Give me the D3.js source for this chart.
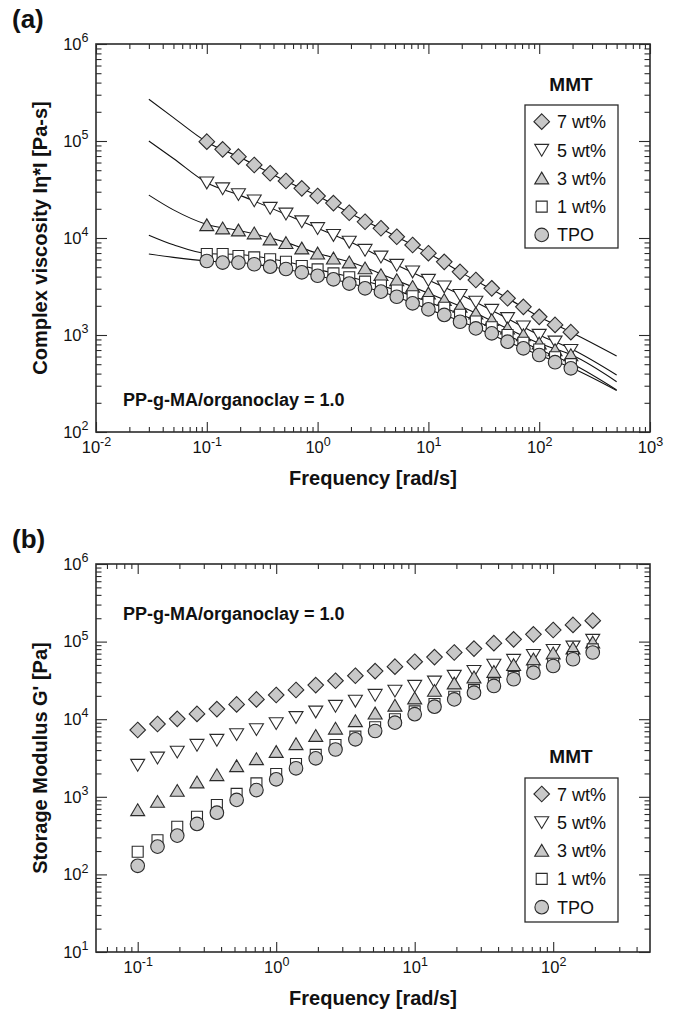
<!DOCTYPE html>
<html><head><meta charset="utf-8">
<script src="https://cdn.jsdelivr.net/npm/d3@7"></script>
<style>
body{margin:0;background:#fff}
svg{display:block}
text{font-family:"Liberation Sans",Arial,Helvetica,sans-serif;fill:#111}
</style>
</head><body>
<svg id="chart" width="679" height="1012"></svg>
<script>
// ---------------- DATA ----------------
const freq = [0.1,0.139,0.193,0.268,0.373,0.518,0.72,1.0,1.39,1.93,2.68,3.73,5.18,7.2,10,13.9,19.3,26.8,37.3,51.8,72,100,139,193];
const seriesNames = ["7 wt%","5 wt%","3 wt%","1 wt%","TPO"];

// (a) complex viscosity |eta*| [Pa-s]
const etaMMT7 = [98400,82000,68900,56600,46500,38700,32500,27100,22900,18200,14700,12600,10300,8470,6970,5680,4480,3690,3030,2390,1950,1540,1270,1070];
const etaMMT5 = [37200,32400,28200,24300,20400,17800,14800,12600,10700,9120,7520,6410,5270,4500,3690,3150,2580,2200,1810,1490,1220,1000,853,700];
const etaMMT3 = [13600,12600,12000,11200,9700,8910,7830,6950,6170,5620,4880,4160,3690,3150,2690,2300,1960,1670,1430,1170,1000,820,700,622];
const etaMMT1 = [6840,6840,6520,6310,6030,5700,5140,4750,4320,3940,3550,3240,2880,2510,2190,1910,1620,1380,1200,1000,832,708,589,501];
const etaTPO  = [5790,5580,5580,5360,5060,4790,4430,4080,3750,3390,3030,2800,2480,2120,1840,1610,1370,1170,1040,853,729,622,524,453];

// (a) fitted curves
const fitFreq = [0.03,0.05,0.1,0.2,0.5,1,2,5,10,20,50,100,200,500];
const fitMMT7 = [269000,174000,97700,67600,39400,27100,17800,10500,6970,4370,2450,1540,1050,608];
const fitMMT5 = [100000,66100,37200,27500,17800,12600,9020,5370,3690,2570,1510,1000,708,387];
const fitMMT3 = [27700,19500,13800,11900,9120,6950,5620,3720,2690,1950,1190,820,617,330];
const fitMMT1 = [10700,8510,6920,6760,5750,4750,3940,2920,2190,1620,1010,708,501,271];
const fitTPO  = [6840,6310,5790,5580,4790,4080,3390,2510,1840,1370,871,622,453,267];

// (b) storage modulus G' [Pa]
const gMMT7 = [7260,8670,10100,11700,13500,15500,18000,20500,23800,27500,31300,36300,41700,47500,55000,63100,72400,81300,95500,107000,124000,141000,164000,186000];
const gMMT5 = [2570,3190,3800,4650,5400,6380,7410,8850,10600,12500,14800,17200,20500,23200,26800,30400,36100,41700,50100,57900,67100,77600,85900,105000];
const gMMT3 = [676,865,1200,1540,1910,2490,3070,3800,4790,6120,7590,9480,11900,15000,18600,23300,29000,34700,40900,50100,59200,70800,82000,97700];
const gMMT1 = [196,275,411,553,783,1090,1490,1970,2650,3470,4660,5960,7870,9980,12600,15700,19500,23700,28800,35100,42700,51900,63100,79400];
const gTPO  = [129,228,316,447,624,912,1220,1680,2330,3130,4070,5500,7050,9020,11600,14500,18000,22000,26800,32700,39800,48500,59200,72400];

// tick values
const xMajorA = [0.01,0.1,1,10,100,1000];
const yMajorA = [1e2,1e3,1e4,1e5,1e6];
const xMajorB = [0.1,1,10,100];
const yMajorB = [1e1,1e2,1e3,1e4,1e5,1e6];

// ---------------- STYLE ----------------
const GRAY = "#c8c8c8", STROKE = "#2b2b2b";
const shapes = {
  diamond: "M0,-7.8L7.8,0L0,7.8L-7.8,0Z",
  down: "M-7,-5.6L7,-5.6L0,6.2Z",
  up: "M0,-6.2L7,5.6L-7,5.6Z",
  square: "M-5.5,-5.5H5.5V5.5H-5.5Z",
  circle: "M6.8,0A6.8,6.8 0 1 1 -6.8,0A6.8,6.8 0 1 1 6.8,0Z"
};
const seriesStyle = [
  {shape:"diamond", fill:GRAY},
  {shape:"down", fill:"#fff"},
  {shape:"up", fill:GRAY},
  {shape:"square", fill:"#fff"},
  {shape:"circle", fill:GRAY}
];

const svg = d3.select("#chart");

function minorTicks(domain){
  const out=[];
  const lo=Math.floor(Math.log10(domain[0])), hi=Math.ceil(Math.log10(domain[1]));
  for(let e=lo;e<hi;e++){
    for(let m=2;m<=9;m++){
      const v=m*Math.pow(10,e);
      if(v>domain[0]*1.0001 && v<domain[1]*0.9999) out.push(v);
    }
  }
  return out;
}

function supLabels(sel){
  sel.selectAll(".tick text").each(function(d){
    const t=d3.select(this);
    const e=Math.round(Math.log10(d));
    t.text(null);
    t.append("tspan").text("10");
    t.append("tspan").attr("dy",-7.5).attr("font-size",12.5).text(String(e));
  }).attr("font-size",16.5).attr("fill","#111").style("font-family",'"Liberation Sans",Arial,sans-serif');
}

function panel(cfg){
  const x=d3.scaleLog().domain(cfg.xDomain).range([cfg.x0,cfg.x1]);
  const y=d3.scaleLog().domain(cfg.yDomain).range([cfg.y1,cfg.y0]);
  const g=svg.append("g");

  const mk=(axisFn, scale, vals, size, pos, labels, pad)=>{
    const a=axisFn(scale).tickValues(vals).tickSize(-size).tickSizeOuter(0).tickPadding(pad||0);
    if(!labels) a.tickFormat("");
    const ag=g.append("g").attr("transform",pos).call(a);
    ag.select(".domain").remove();
    ag.selectAll(".tick line").attr("stroke",STROKE).attr("stroke-width",1.1);
    if(labels) supLabels(ag);
    return ag;
  };
  const xMin=minorTicks(cfg.xDomain), yMin=minorTicks(cfg.yDomain);
  // bottom
  mk(d3.axisBottom,x,cfg.xMajor,10,`translate(0,${cfg.y1})`,true,9.5);
  mk(d3.axisBottom,x,xMin,5,`translate(0,${cfg.y1})`,false);
  // top
  mk(d3.axisTop,x,cfg.xMajor,10,`translate(0,${cfg.y0})`,false);
  mk(d3.axisTop,x,xMin,5,`translate(0,${cfg.y0})`,false);
  // left
  mk(d3.axisLeft,y,cfg.yMajor,11,`translate(${cfg.x0},0)`,true,7.5);
  mk(d3.axisLeft,y,yMin,5.5,`translate(${cfg.x0},0)`,false);
  // right
  mk(d3.axisRight,y,cfg.yMajor,11,`translate(${cfg.x1},0)`,false);
  mk(d3.axisRight,y,yMin,5.5,`translate(${cfg.x1},0)`,false);

  // frame
  g.append("rect").attr("x",cfg.x0).attr("y",cfg.y0)
    .attr("width",cfg.x1-cfg.x0).attr("height",cfg.y1-cfg.y0)
    .attr("fill","none").attr("stroke",STROKE).attr("stroke-width",1.6);

  // fit lines
  if(cfg.fits){
    const line=d3.line().x(d=>x(d[0])).y(d=>y(d[1])).curve(d3.curveMonotoneX);
    cfg.fits.forEach(f=>{
      g.append("path").datum(fitFreq.map((fr,i)=>[fr,f[i]]))
        .attr("d",line).attr("fill","none").attr("stroke","#111").attr("stroke-width",1.1);
    });
  }

  // markers
  cfg.series.forEach((vals,si)=>{
    const st=seriesStyle[si];
    g.append("g").selectAll("path").data(freq.map((f,i)=>[f,vals[i]])).join("path")
      .attr("transform",d=>`translate(${x(d[0])},${y(d[1])})`)
      .attr("d",shapes[st.shape]).attr("fill",st.fill)
      .attr("stroke",STROKE).attr("stroke-width",1.1);
  });

  // axis titles
  g.append("text").attr("x",(cfg.x0+cfg.x1)/2).attr("y",cfg.y1+53)
    .attr("text-anchor","middle").attr("font-size",20).attr("font-weight","bold")
    .text("Frequency [rad/s]");
  g.append("text").attr("transform",`translate(47,${(cfg.y0+cfg.y1)/2}) rotate(-90)`)
    .attr("text-anchor","middle").attr("font-size",20).attr("font-weight","bold")
    .text(cfg.yTitle);

  // panel label
  g.append("text").attr("x",12).attr("y",cfg.labelY).attr("font-size",26)
    .attr("font-weight","bold").text(cfg.label);

  // annotation
  g.append("text").attr("x",123).attr("y",cfg.annY).attr("font-size",18)
    .attr("font-weight","bold").text("PP-g-MA/organoclay = 1.0");

  // legend
  const L=cfg.legend;
  g.append("text").attr("x",571).attr("y",L.titleY).attr("text-anchor","middle")
    .attr("font-size",19).attr("font-weight","bold").text("MMT");
  g.append("rect").attr("x",525).attr("y",L.boxY).attr("width",93).attr("height",L.boxH)
    .attr("fill","#fff").attr("stroke",STROKE).attr("stroke-width",1.3);
  seriesNames.forEach((nm,i)=>{
    const cy=L.firstY+i*28.3;
    const st=seriesStyle[i];
    g.append("path").attr("transform",`translate(541.7,${cy})`).attr("d",shapes[st.shape])
      .attr("fill",st.fill).attr("stroke",STROKE).attr("stroke-width",1.1);
    g.append("text").attr("x",557).attr("y",cy+6.5).attr("font-size",18).text(nm);
  });
}

panel({
  x0:96,x1:650,y0:44,y1:432,
  xDomain:[0.01,1000], yDomain:[1e2,1e6],
  xMajor:xMajorA, yMajor:yMajorA,
  series:[etaMMT7,etaMMT5,etaMMT3,etaMMT1,etaTPO],
  fits:[fitMMT7,fitMMT5,fitMMT3,fitMMT1,fitTPO],
  yTitle:"Complex viscosity Iη*I [Pa-s]",
  label:"(a)", labelY:28, annY:406,
  legend:{titleY:91, boxY:105, boxH:143, firstY:121.7}
});
panel({
  x0:96,x1:650,y0:564,y1:952,
  xDomain:[0.05,500], yDomain:[1e1,1e6],
  xMajor:xMajorB, yMajor:yMajorB,
  series:[gMMT7,gMMT5,gMMT3,gMMT1,gTPO],
  fits:null,
  yTitle:"Storage Modulus G' [Pa]",
  label:"(b)", labelY:548, annY:620,
  legend:{titleY:763, boxY:778, boxH:144, firstY:794}
});
</script>
</body></html>
